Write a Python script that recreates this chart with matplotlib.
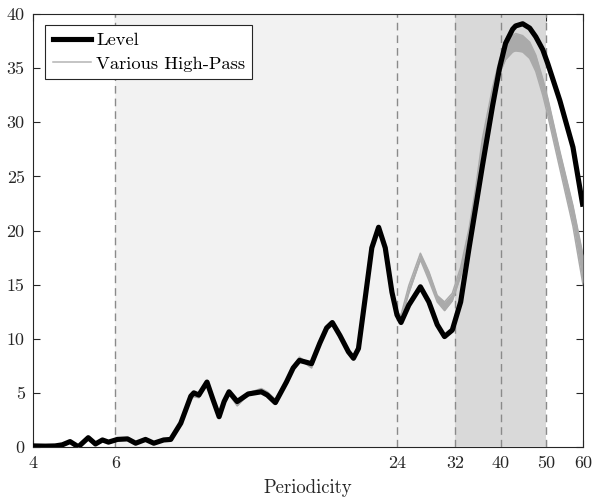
import matplotlib
matplotlib.use("Agg")
import matplotlib.pyplot as plt
from matplotlib.lines import Line2D

plt.rcParams["font.family"] = ["cmr10", "DejaVu Serif"]
plt.rcParams["axes.formatter.use_mathtext"] = True

# Periodicity grid (quarters) shared by all series
period = [4.00, 4.25, 4.46, 4.62, 4.80, 5.00, 5.25, 5.44, 5.63, 5.80,
          6.06, 6.37, 6.63, 6.96, 7.25, 7.61, 7.88, 8.28, 8.70, 8.83,
          9.05, 9.42, 9.70, 10.00, 10.25, 10.50, 10.93, 11.54, 12.31, 12.68,
          13.19, 13.93, 14.40, 14.85, 15.76, 16.42, 16.98, 17.46, 18.13, 18.90,
          19.38, 19.86, 20.52, 21.21, 21.93, 22.66, 23.42, 24.01, 24.49, 25.44,
          26.94, 28.09, 29.27, 30.34, 31.52, 32.85, 34.24, 35.33, 36.57, 38.43,
          39.78, 40.98, 42.43, 43.06, 44.58, 46.15, 47.55, 49.22, 50.46, 53.54,
          57.10, 60.00]

# Spectral power of the level series
level = [0.10, 0.08, 0.10, 0.20, 0.50, 0.02, 0.86, 0.28, 0.65, 0.45,
         0.70, 0.75, 0.35, 0.70, 0.35, 0.65, 0.70, 2.20, 4.70, 5.00,
         4.80, 6.00, 4.40, 2.80, 4.20, 5.10, 4.20, 4.90, 5.10, 4.80,
         4.10, 6.00, 7.30, 8.00, 7.70, 9.60, 11.00, 11.50, 10.30, 8.80,
         8.20, 9.10, 13.70, 18.40, 20.30, 18.40, 14.30, 12.20, 11.50, 13.10,
         14.80, 13.40, 11.30, 10.20, 10.80, 13.40, 18.40, 22.00, 26.00, 31.50,
         35.00, 37.30, 38.60, 38.90, 39.10, 38.70, 37.90, 36.70, 35.40, 32.00,
         27.70, 22.20]

# Envelope of the high-pass filtered variants (upper and lower members)
hp_upper = [0.12, 0.10, 0.12, 0.22, 0.52, 0.05, 0.88, 0.30, 0.67, 0.47,
            0.72, 0.77, 0.37, 0.72, 0.37, 0.67, 0.72, 2.20, 4.60, 4.85,
            4.70, 5.95, 4.40, 2.85, 4.10, 5.00, 4.05, 5.00, 5.40, 5.10,
            4.40, 6.20, 7.50, 8.30, 7.50, 9.60, 11.00, 11.50, 10.30, 8.80,
            8.20, 9.20, 13.80, 18.40, 20.20, 18.40, 14.40, 12.40, 12.20, 14.90,
            17.90, 16.20, 14.00, 13.40, 14.20, 16.60, 20.20, 23.80, 28.50, 33.20,
            35.80, 37.20, 38.00, 38.20, 38.00, 37.40, 36.20, 34.00, 32.20, 27.30,
            22.30, 17.70]
hp_lower = [0.08, 0.06, 0.08, 0.18, 0.48, 0.00, 0.84, 0.26, 0.63, 0.43,
            0.68, 0.73, 0.33, 0.68, 0.33, 0.63, 0.68, 2.10, 4.40, 4.65,
            4.55, 5.85, 4.30, 2.75, 3.95, 4.85, 3.80, 4.85, 5.20, 4.95,
            4.25, 6.00, 7.20, 8.10, 7.30, 9.40, 10.85, 11.35, 10.15, 8.65,
            8.05, 9.00, 13.60, 18.25, 20.05, 18.25, 14.20, 12.00, 11.70, 14.20,
            17.30, 15.40, 13.40, 12.60, 13.50, 15.80, 19.40, 22.80, 27.30, 32.00,
            34.50, 35.80, 36.50, 36.60, 36.50, 35.90, 34.70, 32.50, 30.60, 25.70,
            20.40, 15.00]

band_edges = [6, 24, 32, 40, 50]
light_band = (6, 32)
dark_band = (32, 50)
xtick_vals = [4, 6, 24, 32, 40, 50, 60]
ytick_vals = [0, 5, 10, 15, 20, 25, 30, 35, 40]

fig = plt.figure(figsize=(5.94, 4.97), dpi=100)
ax = fig.add_axes([0.0556, 0.1006, 0.9259, 0.8712])

ax.set_xscale("log")
ax.set_xlim(4, 60)
ax.set_ylim(0, 40)

# shaded frequency bands (cover the bottom spine, not the others)
ax.axvspan(*light_band, color="#f2f2f2", lw=0, zorder=2.6)
ax.axvspan(*dark_band, color="#d9d9d9", lw=0, zorder=2.6)
ax.plot(light_band, [0, 0], color="#c4c4c4", lw=1.0, zorder=2.7,
        solid_capstyle="butt")
for s in ("top", "left", "right"):
    ax.spines[s].set_zorder(3.5)
for s in ax.spines.values():
    s.set_color("#262626")
    s.set_linewidth(0.8)

for xv in band_edges:
    ax.axvline(xv, color="#8a8a8a", lw=1.0, dashes=(5.5, 3.6), zorder=3)

grey = "#aaaaaa"
ax.fill_between(period, hp_lower, hp_upper, color=grey, lw=0, zorder=4)
ax.plot(period, hp_upper, color=grey, lw=1.1, zorder=4)
ax.plot(period, hp_lower, color=grey, lw=1.1, zorder=4)
ax.plot(period, level, color="black", lw=3.7, zorder=5,
        solid_joinstyle="round", solid_capstyle="butt")

ax.set_xticks(xtick_vals)
ax.set_xticklabels([str(v) for v in xtick_vals])
ax.xaxis.set_minor_locator(matplotlib.ticker.NullLocator())
ax.set_yticks(ytick_vals)
ax.set_yticklabels([str(v) for v in ytick_vals])
ax.tick_params(direction="in", length=5, width=0.8, colors="#262626",
               labelsize=13, top=True, right=True, pad=6)
ax.set_xlabel("Periodicity", fontsize=13.5, color="#262626", labelpad=6)

handles = [Line2D([], [], color="black", lw=3.7),
           Line2D([], [], color="#b4b4b4", lw=1.1)]
leg = ax.legend(handles, ["Level", "Various High-Pass"], loc="upper left",
                bbox_to_anchor=(0.022, 0.975), borderaxespad=0, fancybox=False,
                framealpha=1, edgecolor="#262626", fontsize=13.3,
                handlelength=2.1, handletextpad=0.25, labelspacing=0.42,
                borderpad=0.4)
leg.get_frame().set_linewidth(0.8)
leg.set_zorder(6)

fig.savefig("out.png", dpi=100)
